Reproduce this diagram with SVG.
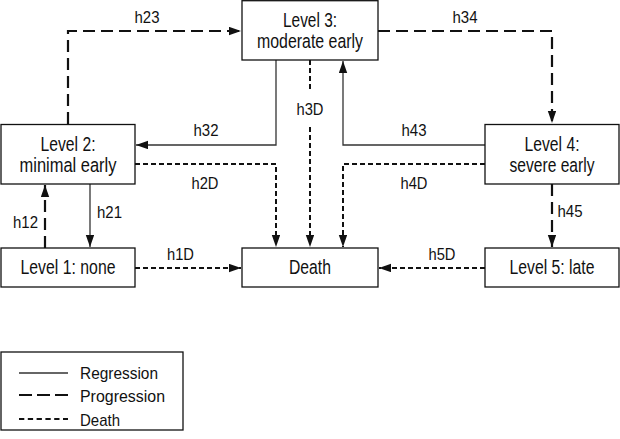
<svg xmlns="http://www.w3.org/2000/svg" width="620" height="439" viewBox="0 0 620 439">
<style>
text{font-family:"Liberation Sans","Arial",sans-serif;fill:#111}
.node rect{fill:#fff;stroke:#111;stroke-width:1.3}
.node text{font-size:20.5px;text-anchor:middle}
.lbl{font-size:16.5px}
.leg{font-size:17px}
.c{text-anchor:middle}
.reg{fill:none;stroke:#333;stroke-width:1.3}
.pro{fill:none;stroke:#111;stroke-width:2.2;stroke-dasharray:12 6}
.dth{fill:none;stroke:#111;stroke-width:2;stroke-dasharray:5 3}
</style>
<defs>
<marker id="ah" markerUnits="userSpaceOnUse" markerWidth="13" markerHeight="9" refX="12" refY="4.2" orient="auto">
<path d="M0,0 L12,4.2 L0,8.4 z" fill="#111"/>
</marker>
</defs>
<rect width="620" height="439" fill="#fff"/>
<g id="connectors">
<path class="pro" d="M68,124 V31 H241" marker-end="url(#ah)"/>
<path class="pro" d="M378,31 H552 V123" marker-end="url(#ah)"/>
<path class="reg" d="M276,60 V145 H136" marker-end="url(#ah)"/>
<path class="reg" d="M485,145 H343 V61" marker-end="url(#ah)"/>
<path class="dth" d="M135,164 H276 V247" marker-end="url(#ah)"/>
<path class="dth" d="M485,164 H343 V247" marker-end="url(#ah)"/>
<path class="dth" d="M310,60 V90"/>
<path class="dth" d="M310,127 V247" marker-end="url(#ah)"/>
<path class="pro" d="M45,248 V185" marker-end="url(#ah)"/>
<path class="reg" d="M90,184 V247" marker-end="url(#ah)"/>
<path class="dth" d="M135,268 H241" marker-end="url(#ah)"/>
<path class="dth" d="M485,268 H379" marker-end="url(#ah)"/>
<path class="pro" d="M552,184 V247" marker-end="url(#ah)"/>
<text class="lbl c" x="147" y="23" textLength="25" lengthAdjust="spacingAndGlyphs">h23</text>
<text class="lbl c" x="465" y="23" textLength="25" lengthAdjust="spacingAndGlyphs">h34</text>
<text class="lbl c" x="206" y="136" textLength="25" lengthAdjust="spacingAndGlyphs">h32</text>
<text class="lbl c" x="414" y="136" textLength="25" lengthAdjust="spacingAndGlyphs">h43</text>
<text class="lbl c" x="205" y="189" textLength="27" lengthAdjust="spacingAndGlyphs">h2D</text>
<text class="lbl c" x="414" y="189" textLength="27" lengthAdjust="spacingAndGlyphs">h4D</text>
<text class="lbl c" x="310" y="115" textLength="27" lengthAdjust="spacingAndGlyphs">h3D</text>
<text class="lbl c" x="25.5" y="228" textLength="25" lengthAdjust="spacingAndGlyphs">h12</text>
<text class="lbl c" x="109.5" y="218" textLength="25" lengthAdjust="spacingAndGlyphs">h21</text>
<text class="lbl c" x="570" y="217" textLength="25" lengthAdjust="spacingAndGlyphs">h45</text>
<text class="lbl c" x="180.5" y="260" textLength="27" lengthAdjust="spacingAndGlyphs">h1D</text>
<text class="lbl c" x="442" y="260" textLength="27" lengthAdjust="spacingAndGlyphs">h5D</text>
</g>
<g id="level3" class="node"><rect x="242" y="0.7" width="136" height="59.3"/><text x="310" y="27" textLength="54" lengthAdjust="spacingAndGlyphs">Level 3:</text><text x="310" y="48" textLength="106" lengthAdjust="spacingAndGlyphs">moderate early</text></g>
<g id="level2" class="node"><rect x="1" y="124.5" width="134" height="59.5"/><text x="68" y="151" textLength="55" lengthAdjust="spacingAndGlyphs">Level 2:</text><text x="68" y="172" textLength="97" lengthAdjust="spacingAndGlyphs">minimal early</text></g>
<g id="level4" class="node"><rect x="485" y="124.5" width="134" height="59.5"/><text x="552" y="151" textLength="55" lengthAdjust="spacingAndGlyphs">Level 4:</text><text x="552" y="172" textLength="85" lengthAdjust="spacingAndGlyphs">severe early</text></g>
<g id="level1" class="node"><rect x="1" y="248" width="134" height="39"/><text x="68" y="274" textLength="95" lengthAdjust="spacingAndGlyphs">Level 1: none</text></g>
<g id="death" class="node"><rect x="242" y="248" width="136" height="39"/><text x="310" y="274" textLength="42" lengthAdjust="spacingAndGlyphs">Death</text></g>
<g id="level5" class="node"><rect x="485" y="248" width="134" height="39"/><text x="552" y="274" textLength="85" lengthAdjust="spacingAndGlyphs">Level 5: late</text></g>
<g id="legend">
<rect x="1" y="352" width="182" height="78" fill="#fff" stroke="#111" stroke-width="1.3"/>
<line class="reg" x1="19" y1="373" x2="68" y2="373"/>
<line class="pro" x1="19" y1="395" x2="68" y2="395" style="stroke-dasharray:13 5"/>
<line class="dth" x1="19" y1="419" x2="68" y2="419" style="stroke-dasharray:5.3 3.5"/>
<text class="leg" x="80" y="379" textLength="78" lengthAdjust="spacingAndGlyphs">Regression</text>
<text class="leg" x="80" y="402" textLength="85" lengthAdjust="spacingAndGlyphs">Progression</text>
<text class="leg" x="80" y="426" textLength="40" lengthAdjust="spacingAndGlyphs">Death</text>
</g>
</svg>
